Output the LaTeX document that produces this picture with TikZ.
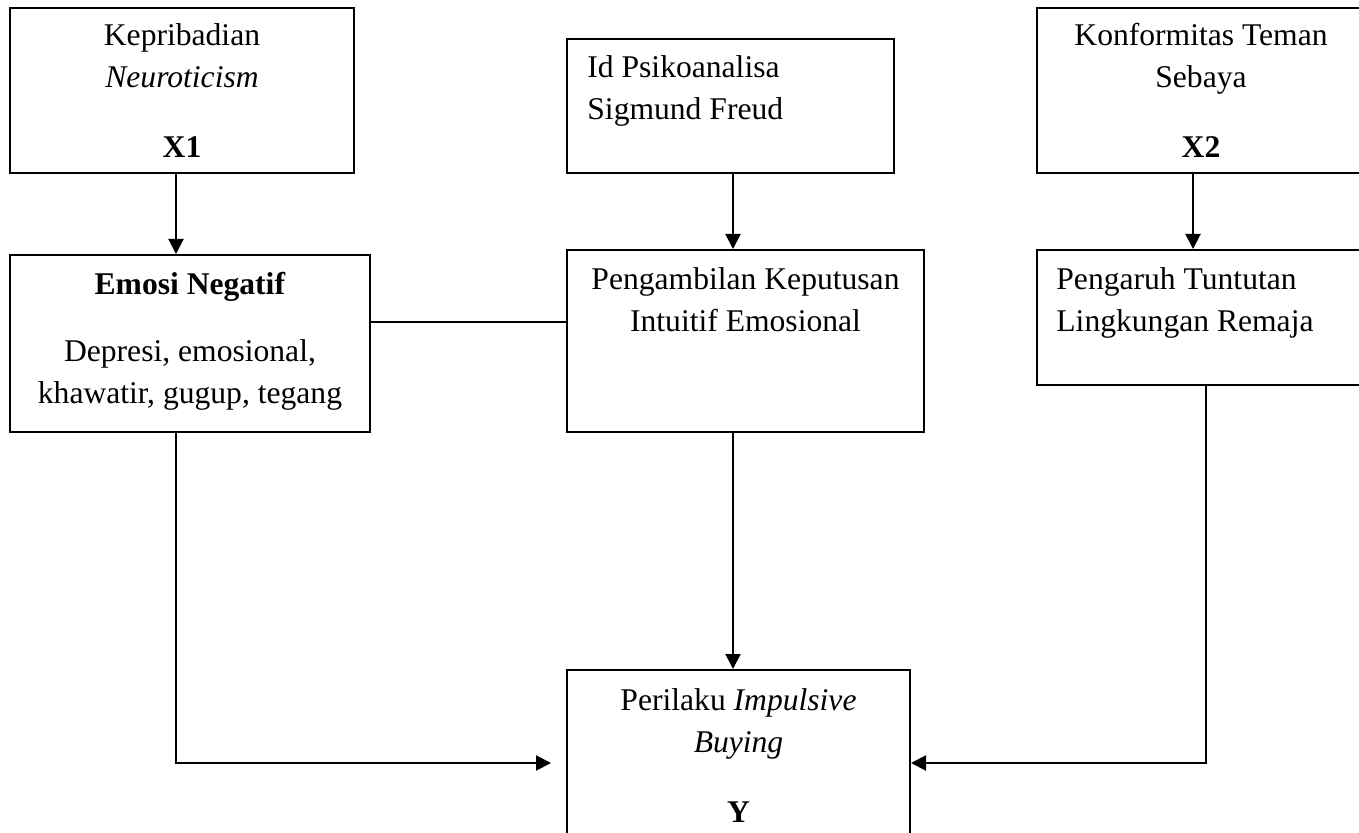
\documentclass[tikz,border=0pt]{standalone}
\usepackage{fontspec}
\setmainfont{Liberation Serif}
\usetikzlibrary{positioning}
\usetikzlibrary{calc}
\usetikzlibrary{arrows.meta}
\tikzstyle{box} = [draw,rectangle,anchor=north west,inner sep=0pt,line width=1pt]
\tikzstyle{txt} = [align=center,inner sep=0pt,anchor=base]
\tikzstyle{txtl} = [align=left,inner sep=0pt,anchor=base west]

\begin{document}
\begin{tikzpicture}
	[x=0.5pt,y=-0.5pt,font=\fontsize{15.8}{21}\selectfont]
	\tikzstyle{flow}=[-{Triangle[length=7.5pt,width=7.5pt]},line width=1pt];
	\tikzstyle{plain}=[line width=1pt];
	\useasboundingbox (0,0) rectangle (1359,833);
	
	\node (1) [box,minimum width=172pt,minimum height=82.5pt] at (9,7) {};
	\node (2) [box,minimum width=180pt,minimum height=88.5pt] at (9,254) {};
	\node (3) [box,minimum width=163.5pt,minimum height=67pt] at (566,38) {};
	\node (4) [box,minimum width=178.5pt,minimum height=91pt] at (566,249) {};
	\node (5) [box,minimum width=164pt,minimum height=82.5pt] at (1036,7) {};
	\node (6) [box,minimum width=164pt,minimum height=67.5pt] at (1036,249) {};
	\node (7) [box,minimum width=171.5pt,minimum height=95pt] at (566,669) {};
	
	% text placed by the baseline of its last line
	\node (t1) [txt] at ($(1.north)+(0,151)$) {Kepribadian\\\textit{Neuroticism}\\[14pt]\textbf{X1}};
	\node (t2) [txt] at ($(2.north)+(0,150)$) {\textbf{Emosi Negatif}\\[12.5pt]Depresi, emosional,\\khawatir, gugup, tegang};
	\node (t3) [txtl] at ($(3.north west)+(21,82)$) {Id Psikoanalisa\\Sigmund Freud};
	\node (t4) [txt] at ($(4.north)+(0,83)$) {Pengambilan Keputusan\\Intuitif Emosional};
	\node (t5) [txt] at ($(5.north)+(0,151)$) {Konformitas Teman\\Sebaya\\[14pt]\textbf{X2}};
	\node (t6) [txtl] at ($(6.north west)+(20,83)$) {Pengaruh Tuntutan\\Lingkungan Remaja};
	\node (t7) [txt] at ($(7.north)+(0,153)$) {Perilaku \textit{Impulsive}\\\textit{Buying}\\[14pt]\textbf{Y}};
	
	\coordinate (ax) at (733,322);
	\coordinate (low) at (0,763);
	\draw[flow] ([xshift=-3pt]1.south) -- ([xshift=-3pt]1.south |- 2.north);
	\draw[flow] (3.south -| ax) -- (4.north -| ax);
	\draw[flow] ([xshift=-4pt]5.south) -- ([xshift=-4pt]5.south |- 6.north);
	\draw[plain] (2.east |- ax) -- (4.west |- ax);
	\draw[flow] (4.south -| ax) -- (7.north -| ax);
	\draw[flow,shorten >=7.5pt] ([xshift=-3pt]1.south |- 2.south) |- (7.west |- low);
	\draw[flow] ([xshift=2.5pt]6.south) |- (7.east |- low);
\end{tikzpicture}
\end{document}
